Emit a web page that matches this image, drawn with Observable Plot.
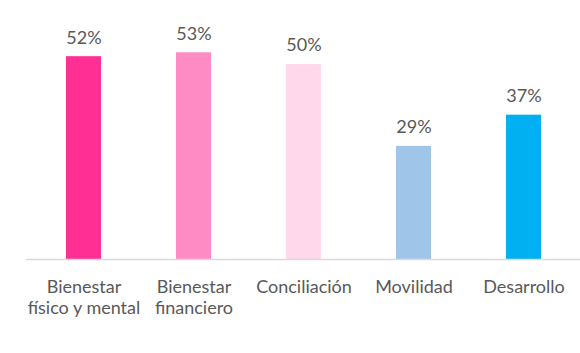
<!DOCTYPE html>
<html>
<head>
<meta charset="utf-8">
<script src="https://cdn.jsdelivr.net/npm/d3@7"></script>
<script src="https://cdn.jsdelivr.net/npm/@observablehq/plot@0.6"></script>
<style>
  html, body { margin: 0; padding: 0; background: #ffffff; }
</style>
</head>
<body>
<div id="chart"></div>
<script>
const categories = ["Bienestar\nfísico y mental", "Bienestar\nfinanciero", "Conciliación", "Movilidad", "Desarrollo"];
const values = [0.52, 0.53, 0.50, 0.29, 0.37];
const colors = ["#FF2F93", "#FF8BC4", "#FFD9EB", "#9FC5E8", "#00B0F0"];

const data = categories.map((c, i) => ({category: c, value: values[i], color: colors[i]}));

const chart = Plot.plot({
  width: 580,
  height: 353,
  marginTop: 0,
  marginLeft: 26,
  marginRight: 0,
  marginBottom: 94,
  style: {background: "#ffffff", color: "#595959", fontFamily: "Lato, sans-serif", fontSize: "18px"},
  x: {domain: categories, range: [26, 580], paddingInner: 0.684, paddingOuter: 0.342, label: null},
  y: {domain: [0, 0.664], axis: null},
  marks: [
    Plot.barY(data, {x: "category", y: "value", fill: "color"}),
    Plot.ruleY([0], {stroke: "#D9D9D9", strokeWidth: 1.5}),
    Plot.text(data, {x: "category", y: "value", text: d => Math.round(d.value * 100) + "%", lineAnchor: "bottom", dy: -13, fontSize: 18, fill: "#595959"}),
    Plot.axisX({tickSize: 0, tickPadding: 19, lineHeight: 1.15, fontSize: 18, fill: "#595959", label: null})
  ]
});
document.getElementById("chart").appendChild(chart);
</script>
</body>
</html>
